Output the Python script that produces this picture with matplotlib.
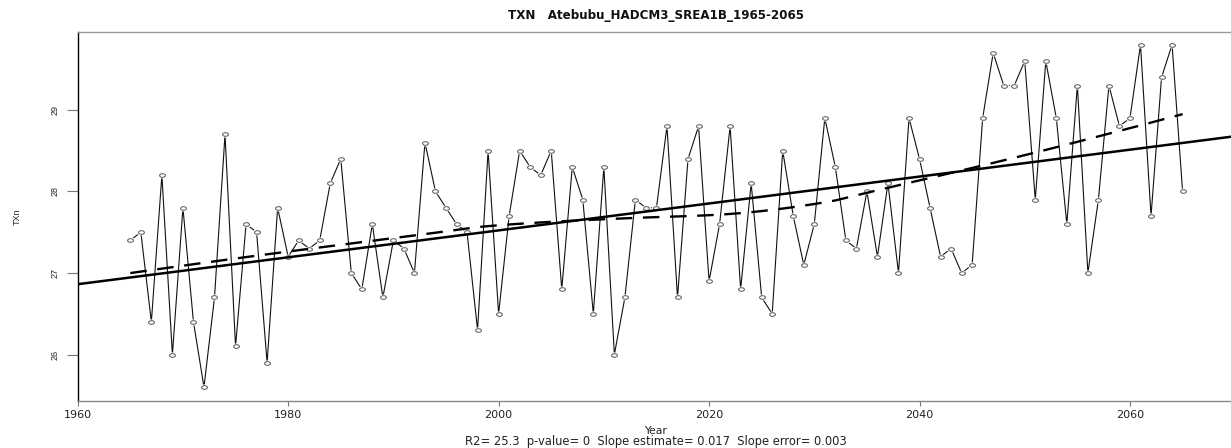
import numpy as np
import matplotlib
matplotlib.use("Agg")
import matplotlib.pyplot as plt
from matplotlib.path import Path

# ---------------- data ----------------
year_start = 1965
year_end = 2065
txn = [27.4, 27.5, 26.4, 28.2, 26.0, 27.8, 26.4, 25.6, 26.7, 28.7,
       26.1, 27.6, 27.5, 25.9, 27.8, 27.2, 27.4, 27.3, 27.4, 28.1,
       28.4, 27.0, 26.8, 27.6, 26.7, 27.4, 27.3, 27.0, 28.6, 28.0,
       27.8, 27.6, 27.5, 26.3, 28.5, 26.5, 27.7, 28.5, 28.3, 28.2,
       28.5, 26.8, 28.3, 27.9, 26.5, 28.3, 26.0, 26.7, 27.9, 27.8,
       27.8, 28.8, 26.7, 28.4, 28.8, 26.9, 27.6, 28.8, 26.8, 28.1,
       26.7, 26.5, 28.5, 27.7, 27.1, 27.6, 28.9, 28.3, 27.4, 27.3,
       28.0, 27.2, 28.1, 27.0, 28.9, 28.4, 27.8, 27.2, 27.3, 27.0,
       27.1, 28.9, 29.7, 29.3, 29.3, 29.6, 27.9, 29.6, 28.9, 27.6,
       29.3, 27.0, 27.9, 29.3, 28.8, 28.9, 29.8, 27.7, 29.4, 29.8,
       28.0]
x_ticks = [1960, 1980, 2000, 2020, 2040, 2060]
y_ticks = [26, 27, 28, 29]
title = "TXN   Atebubu_HADCM3_SREA1B_1965-2065"
x_label = "Year"
y_label = "TXn"
subtitle = "R2= 25.3  p-value= 0  Slope estimate= 0.017  Slope error= 0.003"

years = np.arange(year_start, year_end + 1)
vals = np.array(txn, dtype=float)


def lowess(x, y, f=2/3, iters=3):
    n = len(x)
    ns = max(min(int(f * n + 1e-7), n), 2)
    rob = np.ones(n)
    yest = np.zeros(n)
    for _ in range(iters + 1):
        for i in range(n):
            d = np.abs(x - x[i])
            h = np.sort(d)[ns - 1]
            u = np.clip(d / h, 0, 1)
            w = (1 - u ** 3) ** 3
            w[d > 0.999 * h] = 0
            w[d <= 0.001 * h] = 1
            w = w * rob
            sw = w.sum()
            xm = (w * x).sum() / sw
            ym = (w * y).sum() / sw
            sxx = (w * (x - xm) ** 2).sum()
            b = (w * (x - xm) * (y - ym)).sum() / sxx if sxx > 0 else 0
            yest[i] = ym + b * (x[i] - xm)
        res = y - yest
        s = np.median(np.abs(res))
        if s == 0:
            break
        r = np.clip(res / (6 * s), -1, 1)
        rob = (1 - r ** 2) ** 2
    return yest


# ---------------- figure ----------------
W, H = 1231, 448
fig = plt.figure(figsize=(W / 100, H / 100), dpi=100)
ax = fig.add_axes([77.7 / W, 47 / H, 1 - 77.7 / W, (401 - 31.7) / H])

ax.set_xlim(1960, 2069.6)
ax.set_ylim(25.43, 29.96)

# ellipse marker (points look horizontally stretched in the reference)
uc = Path.unit_circle()
ell = Path(uc.vertices * np.array([1.0, 0.62]), uc.codes)

ax.plot(years, vals, color="#111111", lw=0.8, zorder=1)
ax.plot(years, vals, ls="none", marker=ell, ms=7, mfc="white", mec="none", zorder=2)
ax.plot(years, vals, ls="none", marker=ell, ms=4.2, mfc="white", mec="#555555",
        mew=0.7, zorder=3)

# linear regression line across the whole axis
slope, icpt = np.polyfit(years, vals, 1)
xl = np.array(ax.get_xlim())
ax.plot(xl, icpt + slope * xl, color="black", lw=1.8, zorder=4)

# lowess smooth
ax.plot(years, lowess(years.astype(float), vals), color="black", lw=1.7,
        ls=(0, (7, 4.5)), zorder=4)

# spines
ax.spines["right"].set_visible(False)
ax.spines["left"].set_color("black")
ax.spines["left"].set_linewidth(1.0)
ax.spines["bottom"].set_color("#8a8a8a")
ax.spines["top"].set_color("#9a9a9a")
ax.spines["bottom"].set_linewidth(1.0)
ax.spines["top"].set_linewidth(1.0)

ax.set_xticks(x_ticks)
ax.set_xticklabels([str(t) for t in x_ticks], fontsize=8, family="DejaVu Sans",
                   color="#222222")
ax.set_yticks(y_ticks)
ax.set_yticklabels([str(t) for t in y_ticks], fontsize=6.5, family="Liberation Sans",
                   rotation=90, va="center", color="#222222")
ax.tick_params(axis="x", length=3.6, width=0.8, color="#777777", pad=3)
ax.tick_params(axis="y", length=7.9, width=0.8, color="#777777", pad=5)

fig.text(17 / W, 1 - 217 / H, y_label, rotation=90, fontsize=6.5,
         family="Liberation Sans", ha="center", va="center", color="#222222")
fig.text(656 / W, 1 - 15 / H, title, fontsize=8.6, weight="bold",
         family="DejaVu Sans", ha="center", va="center", color="#111111")
fig.text(656 / W, 1 - 431 / H, x_label, fontsize=7.8, family="DejaVu Sans",
         ha="center", va="center", color="#222222")
fig.text(656 / W, 1 - 441 / H, subtitle, fontsize=8.3, family="DejaVu Sans",
         ha="center", va="center", color="#222222")

fig.savefig("out.png", dpi=100)
